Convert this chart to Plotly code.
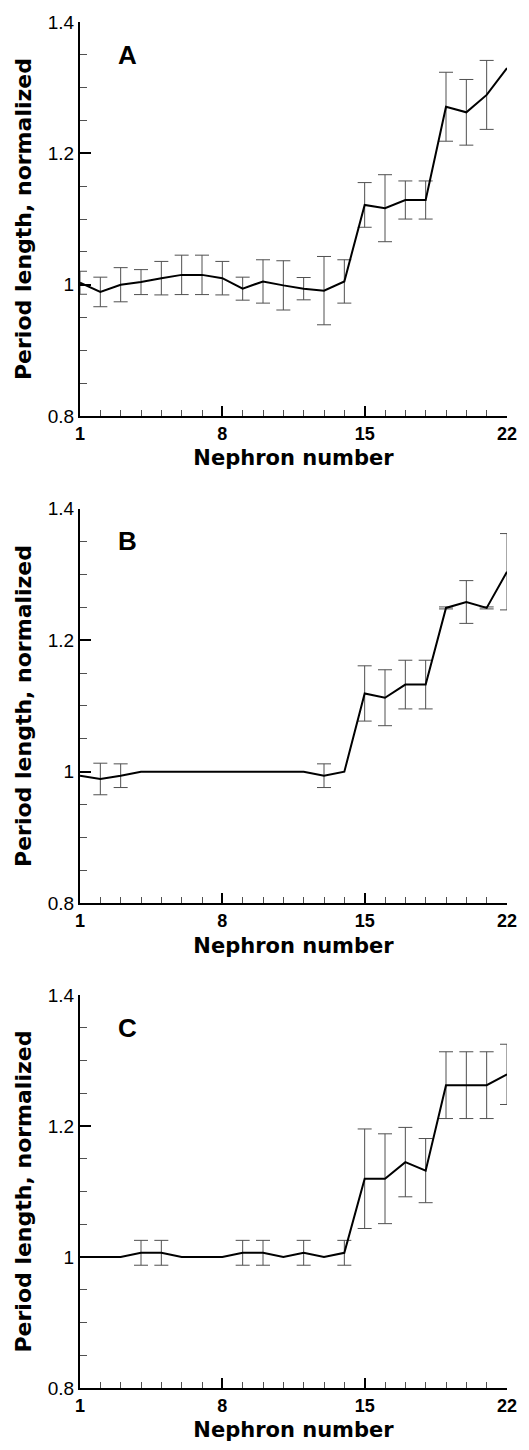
import plotly.graph_objects as go

nephron = list(range(1, 23))

a_mean = [1.003, 0.989, 1.000, 1.004, 1.010, 1.015, 1.015, 1.010, 0.994, 1.005, 0.999,
          0.994, 0.991, 1.005, 1.1215, 1.1165, 1.129, 1.129, 1.271, 1.2625, 1.289, 1.330]
a_err = [0.0175, 0.0225, 0.026, 0.019, 0.0255, 0.030, 0.030, 0.0255, 0.0175, 0.033, 0.0375,
         0.017, 0.052, 0.033, 0.034, 0.051, 0.029, 0.029, 0.0525, 0.050, 0.0525, None]

b_mean = [0.994, 0.989, 0.994, 1.0, 1.0, 1.0, 1.0, 1.0, 1.0, 1.0, 1.0,
          1.0, 0.994, 1.0, 1.119, 1.1125, 1.1325, 1.1325, 1.249, 1.258, 1.249, 1.304]
b_err = [None, 0.024, 0.018, None, None, None, None, None, None, None, None,
         None, 0.018, None, 0.042, 0.0425, 0.037, 0.037, 0.0015, 0.0325, 0.0015, 0.058]

c_mean = [1.0, 1.0, 1.0, 1.0065, 1.0065, 1.0, 1.0, 1.0, 1.0065, 1.0065, 1.0,
          1.0065, 1.0, 1.0065, 1.1196, 1.1196, 1.145, 1.132, 1.2625, 1.2625, 1.2625, 1.279]
c_err = [None, None, None, 0.019, 0.019, None, None, None, 0.019, 0.019, None,
         0.019, None, 0.019, 0.076, 0.0686, 0.053, 0.049, 0.051, 0.051, 0.051, 0.046]

panels = [("A", a_mean, a_err), ("B", b_mean, b_err), ("C", c_mean, c_err)]

y_ticks = [0.8, 1.0, 1.2, 1.4]
y_ticktext = ["0.8", "1", "1.2", "1.4"]
x_ticks = [1, 8, 15, 22]
x_ticktext = ["1", "8", "15", "22"]

FONT = "Liberation Sans, Arial, Helvetica, sans-serif"
TITLE_FONT = "DejaVu Sans, Liberation Sans, sans-serif"
ERR_COLOR = "#505050"

domains = [[0.7115, 1.0], [0.3548, 0.6438], [0.0, 0.2876]]

fig = go.Figure()
layout = dict(
    width=529, height=1450,
    margin=dict(l=80, r=12, t=14, b=52),
    paper_bgcolor="white", plot_bgcolor="white",
    showlegend=False,
    font=dict(family=FONT, color="black"),
    annotations=[],
)

for i, (label, mean, err) in enumerate(panels):
    n = i + 1
    xa = "x" if n == 1 else f"x{n}"
    ya = "y" if n == 1 else f"y{n}"
    ex = [nephron[k] for k in range(len(nephron)) if err[k] is not None]
    ey = [mean[k] for k in range(len(nephron)) if err[k] is not None]
    ee = [err[k] for k in range(len(nephron)) if err[k] is not None]
    fig.add_trace(go.Scatter(
        x=ex, y=ey, mode="markers", xaxis=xa, yaxis=ya,
        marker=dict(size=1, color="rgba(0,0,0,0)"),
        error_y=dict(type="data", array=ee, symmetric=True, color=ERR_COLOR,
                     thickness=1, width=7),
        hoverinfo="skip",
    ))
    fig.add_trace(go.Scatter(
        x=nephron, y=mean, mode="lines", xaxis=xa, yaxis=ya,
        line=dict(color="black", width=2),
    ))
    xkey = "xaxis" if n == 1 else f"xaxis{n}"
    ykey = "yaxis" if n == 1 else f"yaxis{n}"
    layout[xkey] = dict(
        domain=[0, 1], anchor=ya, range=[1, 22],
        tickmode="array", tickvals=x_ticks, ticktext=x_ticktext,
        ticks="inside", ticklen=10, tickwidth=2, tickcolor="black",
        minor=dict(tick0=1, dtick=1, ticks="inside", ticklen=6, tickwidth=1, tickcolor=ERR_COLOR),
        showline=True, linewidth=2, linecolor="black", mirror=False,
        showgrid=False, zeroline=False,
        tickfont=dict(size=18, family=FONT, weight="bold"),
        title=dict(text="Nephron number", font=dict(size=21, family=TITLE_FONT, weight="bold"), standoff=8),
    )
    layout[ykey] = dict(
        domain=domains[i], anchor=xa, range=[0.8, 1.4],
        tickmode="array", tickvals=y_ticks, ticktext=y_ticktext,
        ticks="inside", ticklen=11, tickwidth=2, tickcolor="black",
        minor=dict(tick0=0.8, dtick=0.05, ticks="inside", ticklen=7, tickwidth=1, tickcolor=ERR_COLOR),
        showline=True, linewidth=2, linecolor="black", mirror=False,
        showgrid=False, zeroline=False,
        tickfont=dict(size=19, family=FONT),
        title=dict(text="Period length, normalized", font=dict(size=22, family=TITLE_FONT, weight="bold"), standoff=10),
    )
    layout["annotations"].append(dict(
        text=label, x=3.35, y=1.35, xref=xa, yref=ya, showarrow=False,
        font=dict(size=26, family=FONT, weight="bold", color="black"),
        xanchor="center", yanchor="middle",
    ))

fig.update_layout(**layout)
fig.write_html("out.html",
               config={"displayModeBar": False},
               post_script="document.body.style.margin='0px';document.body.style.overflow='hidden';")
